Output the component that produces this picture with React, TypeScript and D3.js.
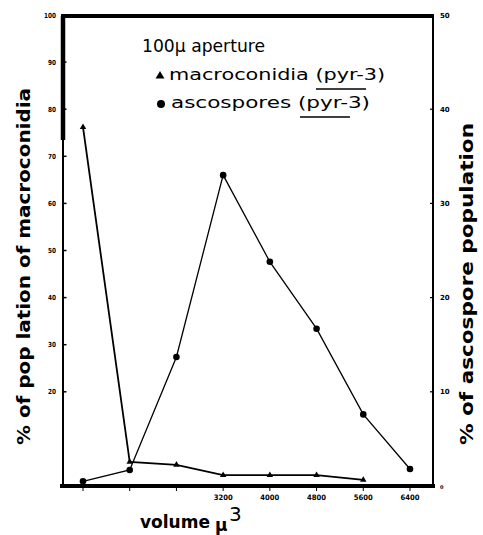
import React, { useEffect, useRef } from "react";
import * as d3 from "d3";

// volume (cubic microns) at which each sample was taken
const volumes = [800, 1600, 2400, 3200, 4000, 4800, 5600, 6400];
// % of population of macroconidia (left axis)
const macroconidia = [76.2, 5.1, 4.5, 2.3, 2.3, 2.3, 1.3];
// % of ascospore population (right axis)
const ascospores = [0.5, 1.7, 13.7, 33.0, 23.8, 16.7, 7.6, 1.8];
const leftTicks = [20, 30, 40, 50, 60, 70, 80, 90, 100];
const rightTicks = [0, 10, 20, 30, 40, 50];
const xLabelTicks = [3200, 4000, 4800, 5600, 6400];

const W = 483;
const H = 535;

const App: React.FC = () => {
  const svgRef = useRef<SVGSVGElement | null>(null);

  useEffect(() => {
    if (!svgRef.current) return;
    const svg = d3.select(svgRef.current);
    svg.selectAll("*").remove();

    const left = 63;
    const right = 433;
    const top = 16;
    const bottom = 486;

    const x = d3.scaleLinear().domain([800, 6400]).range([83, 410]);
    const yL = d3.scaleLinear().domain([0, 100]).range([bottom, 15]);
    const yR = d3.scaleLinear().domain([0, 50]).range([bottom, 15]);

    svg.append("rect").attr("width", W).attr("height", H).attr("fill", "#fff");

    // frame
    const frame = svg.append("g").attr("stroke", "#000").attr("fill", "none");
    frame.append("line").attr("x1", left - 2).attr("x2", right + 1).attr("y1", top).attr("y2", top).attr("stroke-width", 4);
    frame.append("line").attr("x1", left).attr("x2", left).attr("y1", top).attr("y2", 140).attr("stroke-width", 4.5);
    frame.append("line").attr("x1", left).attr("x2", left).attr("y1", 140).attr("y2", bottom).attr("stroke-width", 2);
    frame.append("line").attr("x1", right).attr("x2", right).attr("y1", top).attr("y2", bottom).attr("stroke-width", 2);
    frame.append("line").attr("x1", left - 3).attr("x2", right + 2).attr("y1", bottom).attr("y2", bottom).attr("stroke-width", 4);

    const tickFont = "'DejaVu Sans', sans-serif";

    // left axis
    const gl = svg.append("g");
    gl.selectAll("line")
      .data(leftTicks.filter((d) => d < 100))
      .enter()
      .append("line")
      .attr("x1", left)
      .attr("x2", left + 3.5)
      .attr("y1", (d) => yL(d))
      .attr("y2", (d) => yL(d))
      .attr("stroke", "#000")
      .attr("stroke-width", 1.5);
    gl.selectAll("text")
      .data(leftTicks)
      .enter()
      .append("text")
      .attr("x", 56)
      .attr("y", (d) => yL(d) + 2.5)
      .attr("text-anchor", "end")
      .attr("font-family", tickFont)
      .attr("font-weight", "bold")
      .attr("font-size", 7)
      .attr("textLength", (d) => (d === 100 ? 12 : 8))
      .attr("lengthAdjust", "spacingAndGlyphs")
      .text((d) => d);

    // right axis
    const gr = svg.append("g");
    gr.selectAll("line")
      .data(rightTicks.filter((d) => d > 0 && d < 50))
      .enter()
      .append("line")
      .attr("x1", right - 3)
      .attr("x2", right)
      .attr("y1", (d) => yR(d))
      .attr("y2", (d) => yR(d))
      .attr("stroke", "#000")
      .attr("stroke-width", 1.2);
    gr.selectAll("text")
      .data(rightTicks)
      .enter()
      .append("text")
      .attr("x", 440)
      .attr("y", (d) => yR(d) + 2.5)
      .attr("font-family", tickFont)
      .attr("font-weight", "bold")
      .attr("font-size", (d) => (d === 0 ? 5 : 7))
      .text((d) => d);

    // x axis
    const gx = svg.append("g");
    gx.selectAll("line")
      .data(volumes)
      .enter()
      .append("line")
      .attr("x1", (d) => x(d))
      .attr("x2", (d) => x(d))
      .attr("y1", bottom + 2)
      .attr("y2", bottom + 5)
      .attr("stroke", "#000")
      .attr("stroke-width", 1);
    gx.selectAll("text")
      .data(xLabelTicks)
      .enter()
      .append("text")
      .attr("x", (d) => x(d))
      .attr("y", 500)
      .attr("text-anchor", "middle")
      .attr("font-family", tickFont)
      .attr("font-weight", "bold")
      .attr("font-size", 7.5)
      .attr("textLength", 19)
      .attr("lengthAdjust", "spacingAndGlyphs")
      .text((d) => d);

    // series
    const macroLine = d3
      .line<number>()
      .x((_, i) => x(volumes[i]))
      .y((d) => yL(d));
    const ascoLine = d3
      .line<number>()
      .x((_, i) => x(volumes[i]))
      .y((d) => yR(d));

    svg.append("path")
      .attr("d", macroLine(macroconidia) || "")
      .attr("fill", "none")
      .attr("stroke", "#000")
      .attr("stroke-width", 1.8);
    svg.append("path")
      .attr("d", ascoLine(ascospores) || "")
      .attr("fill", "none")
      .attr("stroke", "#000")
      .attr("stroke-width", 1.3);

    const tri = d3.symbol().type(d3.symbolTriangle).size(18);
    svg.append("g")
      .selectAll("path")
      .data(macroconidia)
      .enter()
      .append("path")
      .attr("d", tri() || "")
      .attr("transform", (d, i) => `translate(${x(volumes[i])},${yL(d)})`)
      .attr("fill", "#000");
    svg.append("g")
      .selectAll("circle")
      .data(ascospores)
      .enter()
      .append("circle")
      .attr("cx", (_, i) => x(volumes[i]))
      .attr("cy", (d) => yR(d))
      .attr("r", 3.3)
      .attr("fill", "#000");

    // legend
    const lf = "'DejaVu Sans', sans-serif";
    const lg = svg.append("g").attr("font-family", lf).attr("fill", "#000");
    lg.append("text")
      .attr("x", 142)
      .attr("y", 52)
      .attr("font-size", 17)
      .attr("textLength", 123)
      .attr("lengthAdjust", "spacingAndGlyphs")
      .text("100µ aperture");
    lg.append("path")
      .attr("d", d3.symbol().type(d3.symbolTriangle).size(34)() || "")
      .attr("transform", "translate(160,76)");
    lg.append("text")
      .attr("x", 169)
      .attr("y", 80)
      .attr("font-size", 16)
      .attr("textLength", 216)
      .attr("lengthAdjust", "spacingAndGlyphs")
      .text("macroconidia (pyr-3)");
    lg.append("line").attr("x1", 316).attr("x2", 366).attr("y1", 89).attr("y2", 89).attr("stroke", "#000").attr("stroke-width", 1.5);
    lg.append("circle").attr("cx", 161).attr("cy", 104).attr("r", 4);
    lg.append("text")
      .attr("x", 171)
      .attr("y", 108)
      .attr("font-size", 16)
      .attr("textLength", 199)
      .attr("lengthAdjust", "spacingAndGlyphs")
      .text("ascospores (pyr-3)");
    lg.append("line").attr("x1", 300).attr("x2", 350).attr("y1", 117).attr("y2", 117).attr("stroke", "#000").attr("stroke-width", 1.5);

    // axis titles
    const tf = "'DejaVu Sans', sans-serif";
    svg.append("text")
      .attr("transform", "translate(30,445) rotate(-90)")
      .attr("font-family", tf)
      .attr("font-weight", "bold")
      .attr("font-size", 18)
      .attr("textLength", 357)
      .attr("lengthAdjust", "spacingAndGlyphs")
      .text("% of pop lation of macroconidia");
    svg.append("text")
      .attr("transform", "translate(473,445) rotate(-90)")
      .attr("font-family", tf)
      .attr("font-weight", "bold")
      .attr("font-size", 17)
      .attr("textLength", 322)
      .attr("lengthAdjust", "spacingAndGlyphs")
      .text("% of ascospore population");

    const xt = svg.append("text")
      .attr("font-family", tf)
      .attr("font-weight", "bold")
      .attr("font-size", 17);
    xt.append("tspan").attr("x", 140).attr("y", 528).attr("textLength", 70).attr("lengthAdjust", "spacingAndGlyphs").text("volume");
    xt.append("tspan").attr("x", 215).attr("y", 531).text("µ");
    xt.append("tspan").attr("x", 229).attr("y", 521).attr("font-weight", "normal").attr("font-size", 20).text("3");
  }, []);

  return (
    <svg
      ref={svgRef}
      width={W}
      height={H}
      style={{ position: "absolute", left: 0, top: 0 }}
    ></svg>
  );
};

export default App;
